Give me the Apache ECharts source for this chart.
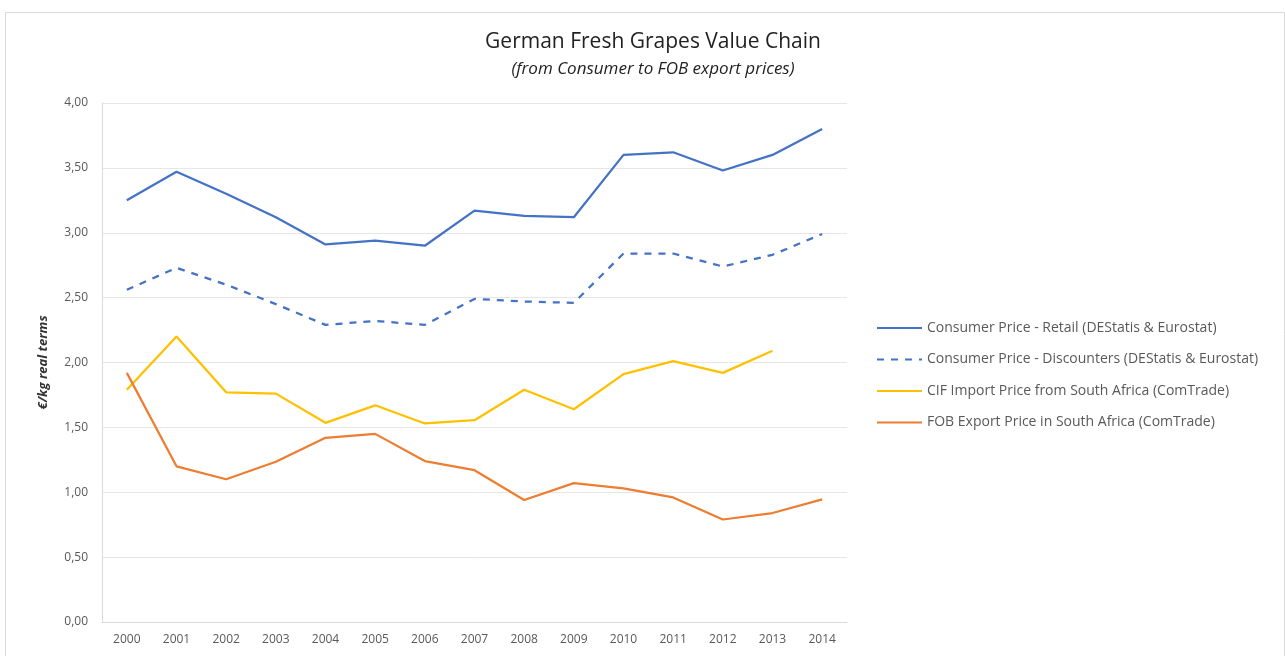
<!DOCTYPE html>
<html>
<head>
<meta charset="utf-8">
<script src="https://cdn.jsdelivr.net/npm/echarts@6/dist/echarts.min.js"></script>
<style>
html,body{margin:0;padding:0;background:#fff;}
#chart{width:1285px;height:656px;}
</style>
</head>
<body>
<div id="chart"></div>
<script>
const years = ['2000','2001','2002','2003','2004','2005','2006','2007','2008','2009','2010','2011','2012','2013','2014'];
const retail = [3.25, 3.47, 3.30, 3.12, 2.91, 2.94, 2.90, 3.17, 3.13, 3.12, 3.60, 3.62, 3.48, 3.60, 3.80];
const discounters = [2.56, 2.73, 2.60, 2.45, 2.29, 2.32, 2.29, 2.49, 2.47, 2.46, 2.84, 2.84, 2.74, 2.83, 2.99];
const cifImport = [1.79, 2.20, 1.77, 1.76, 1.535, 1.67, 1.53, 1.555, 1.79, 1.64, 1.91, 2.01, 1.92, 2.09, null];
const fobExport = [1.92, 1.20, 1.10, 1.235, 1.42, 1.45, 1.24, 1.17, 0.94, 1.07, 1.03, 0.96, 0.79, 0.84, 0.945];
const seriesNames = [
  'Consumer Price - Retail (DEStatis & Eurostat)',
  'Consumer Price - Discounters (DEStatis & Eurostat)',
  'CIF Import Price from South Africa (ComTrade)',
  'FOB Export Price in South Africa (ComTrade)'
];
const colors = ['#4472C4', '#4472C4', '#FFC000', '#ED7D31'];

const chart = echarts.init(document.getElementById('chart'));
const font = 'Open Sans, Noto Sans, sans-serif';
const mk = (i, data, dashed) => ({
  name: seriesNames[i], type: 'line', data: data, symbol: 'none',
  lineStyle: { color: colors[i], width: 2.25, type: dashed ? [7, 7] : 'solid' },
  itemStyle: { color: colors[i] },
  connectNulls: false, animation: false
});
chart.setOption({
  animation: false,
  graphic: [{
    type: 'rect', left: 3, top: 10, shape: { width: 1279, height: 660 },
    style: { fill: 'none', stroke: '#d9d9d9', lineWidth: 1 }, silent: true, z: -1
  }],
  title: {
    text: 'German Fresh Grapes Value Chain',
    subtext: '(from Consumer to FOB export prices)',
    left: 648, top: 27, textAlign: 'center', itemGap: 8,
    textStyle: { fontFamily: font, fontSize: 21, fontWeight: 'normal', color: '#222' },
    subtextStyle: { fontFamily: font, fontSize: 17, fontStyle: 'italic', color: '#222' }
  },
  legend: {
    orient: 'vertical', left: 871, top: 316, itemGap: 17.5, itemWidth: 45, itemHeight: 14,
    itemStyle: { opacity: 0 },
    textStyle: { fontFamily: font, fontSize: 14, color: '#595959' },
    data: seriesNames
  },
  grid: { left: 102, right: 438, top: 103, bottom: 34 },
  xAxis: {
    type: 'category', data: years, boundaryGap: true,
    axisLine: { lineStyle: { color: '#d9d9d9' } },
    axisTick: { show: false },
    axisLabel: { fontFamily: font, fontSize: 12, color: '#595959', margin: 12 }
  },
  yAxis: {
    type: 'value', min: 0, max: 4, interval: 0.5,
    name: '€/kg real terms', nameLocation: 'middle', nameGap: 52, nameRotate: 90,
    nameTextStyle: { fontFamily: font, fontSize: 13, fontWeight: 'bold', fontStyle: 'italic', color: '#333' },
    axisLine: { show: true, lineStyle: { color: '#d9d9d9' } },
    axisTick: { show: false },
    splitLine: { lineStyle: { color: '#e6e6e6' } },
    axisLabel: { fontFamily: font, fontSize: 12, color: '#595959', margin: 14,
      formatter: v => v.toFixed(2).replace('.', ',') }
  },
  series: [
    mk(0, retail, false),
    mk(1, discounters, true),
    mk(2, cifImport, false),
    mk(3, fobExport, false)
  ]
});
</script>
</body>
</html>
